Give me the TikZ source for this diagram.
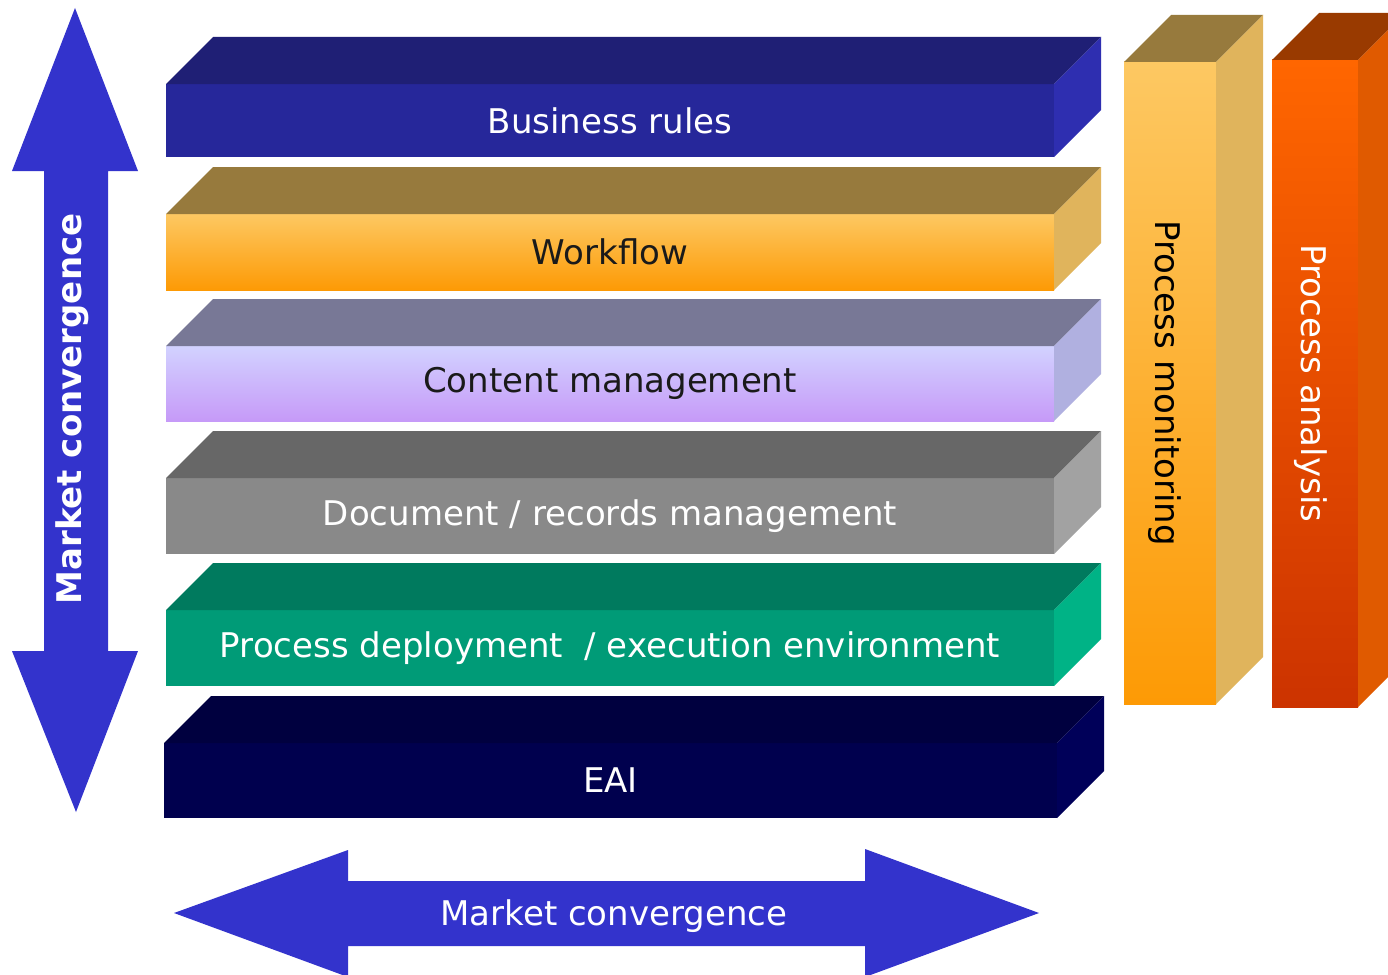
\documentclass[tikz,border=0pt]{standalone}
\usepackage{fontspec}
\setmainfont{DejaVu Sans}
\usetikzlibrary{calc}
\definecolor{arrowblue}{HTML}{3333CC}
\definecolor{brTop}{HTML}{1F1F75}
\definecolor{brFront}{HTML}{26279A}
\definecolor{brSide}{HTML}{2E2EB0}
\definecolor{wfTop}{HTML}{977A3D}
\definecolor{wfFrontA}{HTML}{FDC862}
\definecolor{wfFrontB}{HTML}{FD9A05}
\definecolor{wfSide}{HTML}{E0B45C}
\definecolor{cmTop}{HTML}{787896}
\definecolor{cmFrontA}{HTML}{D2D2FF}
\definecolor{cmFrontB}{HTML}{C69AF8}
\definecolor{cmSide}{HTML}{B0B0E0}
\definecolor{dmTop}{HTML}{676767}
\definecolor{dmFront}{HTML}{898989}
\definecolor{dmSide}{HTML}{A2A2A2}
\definecolor{pdTop}{HTML}{007A5E}
\definecolor{pdFront}{HTML}{009B77}
\definecolor{pdSide}{HTML}{00B386}
\definecolor{eaTop}{HTML}{00003F}
\definecolor{eaFront}{HTML}{00004E}
\definecolor{eaSide}{HTML}{000059}
\definecolor{paTop}{HTML}{993A00}
\definecolor{paFrontA}{HTML}{FF6600}
\definecolor{paFrontB}{HTML}{CC3300}
\definecolor{paSide}{HTML}{E05A00}
\definecolor{darktext}{HTML}{1A1A1A}
\tikzset{
  face/.style={draw=none, inner sep=0pt, outer sep=0pt, anchor=north west},
  layertext/.style={font=\fontsize{34}{40}\selectfont},
  coltext/.style={font=\fontsize{34}{40}\selectfont, rotate=-90},
  bigarrow/.style={fill=arrowblue, draw=none},
}
% #1 name, #2 x1, #3 x2, #4 ytop, #5 ybot, #6 top colour, #7 side colour, #8 front options, #9 text
\newcommand\mylayer[9]{%
  \node[face, minimum width=#3pt-#2pt, minimum height=#5pt-#4pt, #8] (#1) at (#2,#4) {#9};
  \fill[#6] (#1.north west) -- ++(47,-47) -- ($(#1.north east)+(47,-47)$) -- (#1.north east) -- cycle;
  \fill[#7] (#1.north east) -- ++(47,-47) -- ($(#1.south east)+(47,-47)$) -- (#1.south east) -- cycle;
}
\begin{document}
\begin{tikzpicture}[x=1pt,y=-1pt]
\clip (0,0) rectangle (1388,974);
\useasboundingbox (0,0) rectangle (1388,974);
\fill[white] (0,0) rectangle (1388,974);

% layers
\mylayer{br}{166}{1054}{84}{157}{brTop}{brSide}{fill=brFront, text=white, layertext}{Business rules}
\mylayer{wf}{166}{1054}{214}{290}{wfTop}{wfSide}{top color=wfFrontA, bottom color=wfFrontB, text=darktext, layertext}{Workflow}
\mylayer{cm}{166}{1054}{346}{421}{cmTop}{cmSide}{top color=cmFrontA, bottom color=cmFrontB, text=darktext, layertext}{Content management}
\mylayer{dm}{166}{1054}{478}{554}{dmTop}{dmSide}{fill=dmFront, text=white, layertext}{Document / records management}
\mylayer{pd}{166}{1054}{610}{686}{pdTop}{pdSide}{fill=pdFront, text=white, layertext}{Process deployment\ \ / execution environment}
\mylayer{eai}{164}{1057}{743}{818}{eaTop}{eaSide}{fill=eaFront, text=white, layertext}{EAI}

% columns
\mylayer{pm}{1124}{1216}{62}{704}{wfTop}{wfSide}{top color=wfFrontA, bottom color=wfFrontB}{}
\mylayer{pa}{1272}{1358}{60}{707}{paTop}{paSide}{top color=paFrontA, bottom color=paFrontB}{}
\node[coltext, text=black] (pmtext) at ($(pm.center)+(-5,0)$) {Process monitoring};
\node[coltext, text=white] (patext) at ($(pa.center)+(-4,0)$) {Process analysis};

% vertical arrow
\fill[bigarrow] (75,8) -- (138,171) -- (108,171) -- (108,651) -- (138,651) -- (76,812)
  -- (12,651) -- (44,651) -- (44,171) -- (12,171) -- cycle;
\node[rotate=90, text=white, font=\fontsize{34}{40}\selectfont\bfseries] (vmc) at (72,409) {Market convergence};

% horizontal arrow
\fill[bigarrow] (174,913) -- (348,850) -- (348,881) -- (865,881) -- (865,849) -- (1039,913)
  -- (865,977) -- (865,946) -- (348,946) -- (348,977) -- cycle;
\node[text=white, font=\fontsize{34}{40}\selectfont] (hmc) at (614,916) {Market convergence};
\end{tikzpicture}
\end{document}
